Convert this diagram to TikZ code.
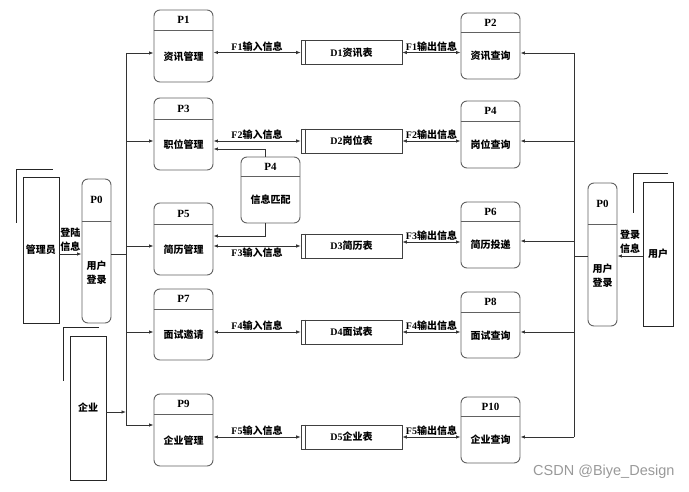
\documentclass[tikz,border=0pt]{standalone}
\usepackage{fontspec}
\setmainfont{Liberation Serif}
\newfontfamily\cjk{Noto Sans CJK SC}
\newfontfamily\wmfont{Liberation Sans}
\usetikzlibrary{arrows.meta}

\tikzset{
  boxline/.style={draw=black!62, line width=0.9pt},
  proc/.style={boxline, rounded corners=6pt, minimum width=59pt, inner sep=0pt},
  store/.style={draw=black!75, line width=0.7pt, minimum width=101pt, minimum height=24pt, inner sep=0pt},
  entity/.style={draw=black!85, line width=0.7pt, inner sep=0pt},
  link/.style={draw=black!80, line width=0.8pt},
  flow/.style={link, -{Latex[length=4.5pt,width=3.5pt]}},
  twoway/.style={link, {Latex[length=4.5pt,width=3.5pt]}-{Latex[length=4.5pt,width=3.5pt]}},
  lbl/.style={inner sep=1pt},
  plabel/.style={font=\bfseries\fontsize{11}{13}\selectfont},
}

\begin{document}
\begin{tikzpicture}[x=1pt,y=-1pt,font=\bfseries\fontsize{10}{14}\selectfont]
  \useasboundingbox (0,0) rectangle (689,492);

  % processes
  \foreach \n/\x/\y/\h/\hd/\p/\t in {
      p1/183.5/46/72/21/P1/资讯管理,
      p3/183.5/134/72/22/P3/职位管理,
      p5/183.5/239/72/22/P5/简历管理,
      p7/183.5/324.5/71/21/P7/面试邀请,
      p9/183.5/430/72/21/P9/企业管理,
      p2/490.5/46/66/20/P2/资讯查询,
      p4/490.5/134.5/67/21/P4/岗位查询,
      p6/490.5/235/66/20/P6/简历投递,
      p8/490.5/325/66/21/P8/面试查询,
      p10/490.5/430/66/20/P10/企业查询,
      pm/270.5/190/66/20/P4/信息匹配}
  {
    \node[proc, minimum height=\h pt] (\n) at (\x,\y) {};
    \draw[boxline] ([yshift=-\hd pt]\n.north west) -- ([yshift=-\hd pt]\n.north east);
    \node[plabel] at ([yshift=-\hd/2]\n.north) {\p};
    \node at ([yshift=-\hd/2]\n.center) {\cjk\t};
  }

  % login processes
  \node[proc, minimum width=29pt, minimum height=144pt] (p0l) at (96.5,251) {};
  \draw[boxline] ([yshift=-43pt]p0l.north west) -- ([yshift=-43pt]p0l.north east);
  \node[plabel] at ([yshift=-21.5pt]p0l.north) {P0};
  \node[align=center] at (96.5,272.5) {\cjk 用户\\\cjk 登录};

  \node[proc, minimum width=29pt, minimum height=143pt] (p0r) at (602.5,254.5) {};
  \draw[boxline] ([yshift=-42pt]p0r.north west) -- ([yshift=-42pt]p0r.north east);
  \node[plabel] at ([yshift=-21pt]p0r.north) {P0};
  \node[align=center] at (602.5,276) {\cjk 用户\\\cjk 登录};

  % data stores
  \foreach \n/\y/\k/\t in {d1/52.5/D1/资讯表, d2/141/D2/岗位表, d3/246/D3/简历表,
                           d4/332/D4/面试表, d5/437/D5/企业表}
  {
    \node[store] (\n) at (351.5,\y) {\k\cjk\t};
    \draw[store] ([xshift=5pt]\n.north west) -- ([xshift=5pt]\n.south west);
  }

  % external entities
  \node[entity, minimum width=36pt, minimum height=146pt] (admin) at (41,250) {\cjk 管理员};
  \draw[entity] ([shift={(-6pt,7pt)}]admin.north west) ++(36,0) -- ++(-36,0) -- ++(0,53);
  \node[entity, minimum width=30pt, minimum height=144pt] (user) at (658,254) {\cjk 用户};
  \draw[entity] ([shift={(-9pt,8pt)}]user.north west) ++(34,0) -- ++(-34,0) -- ++(0,39);
  \node[entity, minimum width=36pt, minimum height=144pt] (corp) at (88,408) {\cjk 企业};
  \draw[entity] ([shift={(-6pt,8pt)}]corp.north west) ++(35,0) -- ++(-35,0) -- ++(0,53);

  % data flows
  \draw[twoway] (p1.east |- d1.west) -- (d1.west) node[midway, above, lbl] {F1\cjk 输入信息};
  \draw[twoway] (p3.east |- d2.west) -- (d2.west) node[midway, above, lbl] {F2\cjk 输入信息};
  \draw[twoway] (p5.east |- d3.west) -- (d3.west) node[midway, below, lbl] {F3\cjk 输入信息};
  \draw[twoway] (p7.east |- d4.west) -- (d4.west) node[midway, above, lbl] {F4\cjk 输入信息};
  \draw[twoway] (p9.east |- d5.west) -- (d5.west) node[midway, above, lbl] {F5\cjk 输入信息};
  \coordinate (d3r) at ([yshift=4pt]d3.east);
  \draw[twoway] (d1.east) -- (p2.west |- d1.east) node[midway, above, lbl] {F1\cjk 输出信息};
  \draw[twoway] (d2.east) -- (p4.west |- d2.east) node[midway, above, lbl] {F2\cjk 输出信息};
  \draw[twoway] (d3r) -- (p6.west |- d3r) node[midway, above, lbl] {F3\cjk 输出信息};
  \draw[twoway] (d4.east) -- (p8.west |- d4.east) node[midway, above, lbl] {F4\cjk 输出信息};
  \draw[twoway] (d5.east) -- (p10.west |- d5.east) node[midway, above, lbl] {F5\cjk 输出信息};

  % matching
  \draw[flow] (265,0 |- pm.north) |- (p3.east |- 0,149);
  \draw[flow] (265,0 |- pm.south) |- (p5.east |- 0,236);

  % left side
  \draw[flow] (admin.east |- 0,254) -- (p0l.west |- 0,254)
    node[midway, above, align=center, inner sep=2pt] {\cjk 登陆\\\cjk 信息};
  \draw[link] (p0l.east |- 0,254) -- (126,254);
  \draw[flow] (corp.east |- 0,412) -- (126,412);
  \draw[link] (126,53) -- (126,425);
  \foreach \n/\yy in {p1/53, p3/141, p5/246, p7/332, p9/425}
    \draw[flow] (126,\yy) -- (\n.west |- 0,\yy);

  % right side
  \draw[flow] (user.west |- 0,256) -- (p0r.east |- 0,256)
    node[midway, above, align=center, inner sep=2pt] {\cjk 登录\\\cjk 信息};
  \draw[link] (p0r.west |- 0,256) -- (574,256);
  \draw[link] (574,53) -- (574,437);
  \foreach \n/\yy in {p2/53, p4/141, p6/241, p8/332, p10/437}
    \draw[flow] (574,\yy) -- (\n.east |- 0,\yy);

  \node[font=\wmfont\mdseries\fontsize{14.5}{14.5}\selectfont, text=black!40, anchor=east] (mark) at (678,472) {CSDN @Biye\_Design};
\end{tikzpicture}
\end{document}
